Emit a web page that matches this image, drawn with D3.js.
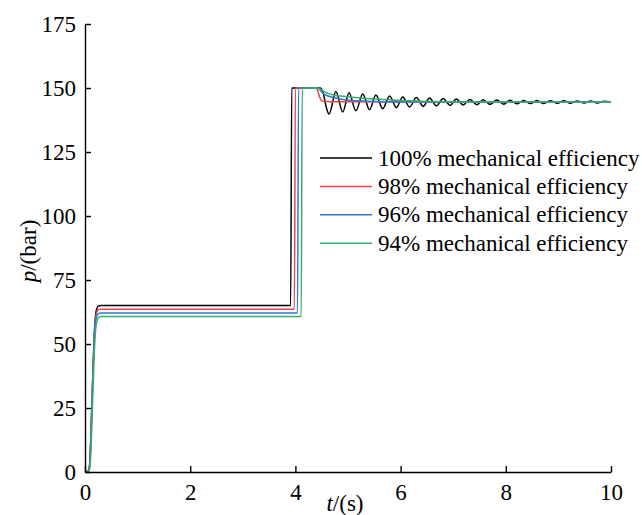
<!DOCTYPE html>
<html>
<head>
<meta charset="utf-8">
<script src="https://cdn.jsdelivr.net/npm/d3@7"></script>
</head>
<body style="margin:0">
<script>
// tick values
var xTicks = [0, 2, 4, 6, 8, 10];
var yTicks = [0, 25, 50, 75, 100, 125, 150, 175];

// series names and colours
var seriesNames = ["100% mechanical efficiency", "98% mechanical efficiency",
                   "96% mechanical efficiency", "94% mechanical efficiency"];
var seriesColors = ["#000000", "#f0464a", "#2f78d6", "#36ad6b"];

// [t (s), p (bar)]
var eff100 = [[0,0],[0.06,0.3],[0.09,3],[0.12,19],[0.15,38],[0.18,55],[0.21,62.5],[0.25,64.8],[0.3,65],
  [3.91,65],[3.93,150],[4.47,150],[4.53,148],[4.58,143],[4.64,139.8],
  [4.77,148.6],[4.90,140.6],[5.02,148.1],[5.15,141.1],[5.28,147.7],[5.41,141.5],[5.53,147.3],
  [5.66,141.9],[5.79,146.9],[5.92,142.3],[6.04,146.5],[6.17,142.6],[6.30,146.3],[6.43,142.8],
  [6.55,146.1],[6.68,143.0],[6.81,145.9],[6.94,143.2],[7.06,145.7],[7.19,143.4],[7.32,145.55],
  [7.45,143.5],[7.57,145.45],[7.70,143.6],[7.83,145.35],[7.96,143.7],[8.08,145.25],[8.21,143.8],
  [8.34,145.15],[8.47,143.9],[8.59,145.1],[8.72,143.95],[8.85,145.0],[8.98,144.0],[9.10,145.0],
  [9.23,144.05],[9.36,144.9],[9.49,144.1],[9.61,144.9],[9.74,144.15],[9.87,144.85],[10,144.5]];
var eff98 = [[0,0],[0.06,0.3],[0.09,3],[0.12,19],[0.15,38],[0.18,54.5],[0.21,61.2],[0.25,63.4],[0.3,63.6],
  [3.98,63.6],[4.0,150],[4.38,150],[4.42,149.2],[4.46,146.5],[4.5,145.1],[4.56,144.7],[4.8,144.6],[10,144.5]];
var eff96 = [[0,0],[0.06,0.3],[0.09,3],[0.12,19],[0.15,38],[0.18,54],[0.21,60],[0.25,61.8],[0.3,62.1],
  [4.04,62.1],[4.06,150],[4.42,150],[4.47,149.2],[4.53,147.8],[4.62,146.9],[4.72,146.3],[4.85,145.7],
  [4.98,145.3],[5.29,144.9],[5.6,144.65],[6,144.55],[10,144.5]];
var eff94 = [[0,0],[0.07,0.3],[0.1,3],[0.13,18],[0.16,37],[0.19,52],[0.22,58.5],[0.26,60.4],[0.31,60.7],
  [4.11,60.7],[4.13,150],[4.42,150],[4.47,149.6],[4.53,148.8],[4.62,147.9],[4.72,147.3],[4.98,146.6],
  [5.29,146],[5.61,145.6],[5.93,145.2],[6.3,144.9],[6.8,144.65],[7.5,144.55],[10,144.5]];

var allSeries = [eff100, eff98, eff96, eff94];

var serif = "Liberation Serif";

var svgWidth = 642, svgHeight = 515;
var margin = {top: 24, right: 31, bottom: 43, left: 85};
var width = svgWidth - margin.left - margin.right;
var height = svgHeight - margin.top - margin.bottom;

var svg = d3.select("body").append("svg")
  .attr("width", svgWidth).attr("height", svgHeight)
  .style("display", "block");
var chartGroup = svg.append("g")
  .attr("transform", `translate(${margin.left}, ${margin.top})`);

var x = d3.scaleLinear().domain([0, 10]).range([0, width]);
var y = d3.scaleLinear().domain([0, 175]).range([height, 0]);

// lines
var line = d3.line()
  .x(d => x(d[0]))
  .y(d => y(d[1]))
  .curve(d3.curveMonotoneX);

chartGroup.selectAll(".series")
  .data(allSeries)
  .enter()
  .append("path")
  .attr("class", "series")
  .attr("d", line)
  .attr("fill", "none")
  .attr("stroke", (d, i) => seriesColors[i])
  .attr("stroke-width", 1.5);

// axes, ticks pointing inward
var xAxis = chartGroup.append("g")
  .attr("transform", `translate(0, ${height})`)
  .call(d3.axisBottom(x).tickValues(xTicks).tickSizeInner(-6).tickSizeOuter(0).tickPadding(12));
var yAxis = chartGroup.append("g")
  .call(d3.axisLeft(y).tickValues(yTicks).tickSizeInner(-6).tickSizeOuter(0).tickPadding(9));
[xAxis, yAxis].forEach(function(g) {
  g.attr("font-family", null).attr("font-size", null);
  g.selectAll("path, line").attr("stroke", "#000").attr("stroke-width", 1.4);
  g.selectAll("text")
    .style("font-family", serif)
    .style("font-size", "23px")
    .attr("fill", "#000");
});

// axis labels
var xl = svg.append("text")
  .attr("x", 345).attr("y", 511)
  .attr("text-anchor", "middle")
  .style("font-family", serif)
  .style("font-size", "23px");
xl.append("tspan").style("font-style", "italic").text("t");
xl.append("tspan").text("/(s)");

var yl = svg.append("text")
  .attr("transform", "translate(36, 251) rotate(-90)")
  .attr("text-anchor", "middle")
  .style("font-family", serif)
  .style("font-size", "23px");
yl.append("tspan").style("font-style", "italic").text("p");
yl.append("tspan").text("/(bar)");

// legend
var legend = svg.append("g").attr("transform", "translate(320, 158)");
var rows = legend.selectAll("g")
  .data(seriesNames)
  .enter()
  .append("g")
  .attr("transform", (d, i) => `translate(0, ${i * 28.4})`);
rows.append("line")
  .attr("x1", 0).attr("x2", 52)
  .attr("stroke", (d, i) => seriesColors[i])
  .attr("stroke-width", 1.5);
rows.append("text")
  .attr("x", 58).attr("y", 7.5)
  .style("font-family", serif)
  .style("font-size", "23px")
  .attr("fill", "#000")
  .text(d => d);
</script>
</body>
</html>
